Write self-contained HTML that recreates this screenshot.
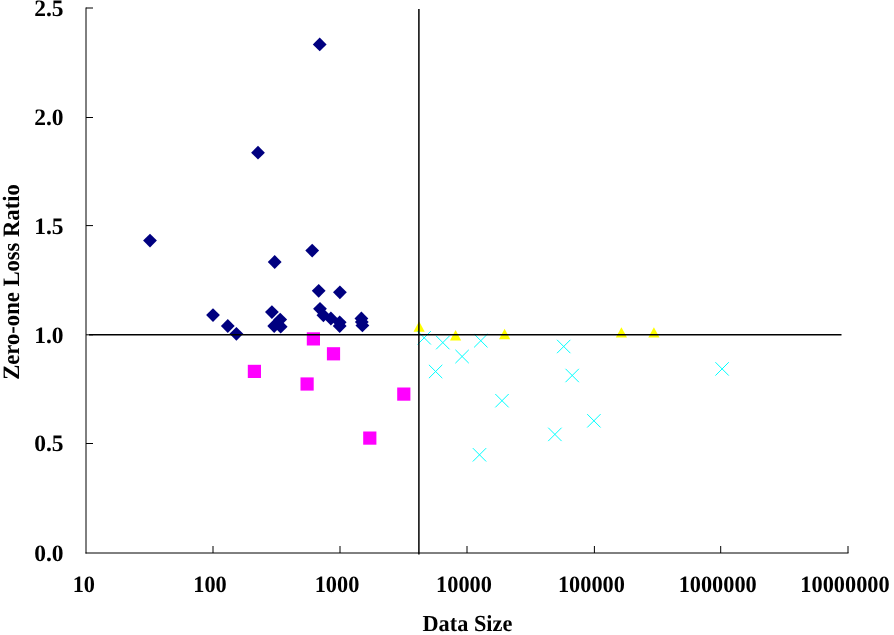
<!DOCTYPE html>
<html lang="en"><head><meta charset="utf-8"><title>Zero-one Loss Ratio vs Data Size</title>
<style>html,body{margin:0;padding:0;background:#fff}svg{display:block}text{font-family:"Liberation Serif","DejaVu Serif",serif;font-weight:bold;font-size:22.3px;fill:#000}.t{font-size:23.5px;text-rendering:geometricPrecision}</style></head><body>
<svg width="894" height="635" viewBox="0 0 894 635">
<rect width="894" height="635" fill="#fff"/>
<g fill="#000080">
<path d="M319.7 37.5L326.6 44.4L319.7 51.3L312.8 44.4Z"/>
<path d="M258.0 145.8L264.9 152.7L258.0 159.6L251.1 152.7Z"/>
<path d="M150.0 233.7L156.9 240.6L150.0 247.5L143.1 240.6Z"/>
<path d="M274.7 255.1L281.6 262.0L274.7 268.9L267.8 262.0Z"/>
<path d="M312.2 243.7L319.1 250.6L312.2 257.5L305.3 250.6Z"/>
<path d="M318.7 283.9L325.6 290.8L318.7 297.7L311.8 290.8Z"/>
<path d="M339.9 285.4L346.8 292.3L339.9 299.2L333.0 292.3Z"/>
<path d="M213.0 308.2L219.9 315.1L213.0 322.0L206.1 315.1Z"/>
<path d="M227.8 319.1L234.7 326.0L227.8 332.9L220.9 326.0Z"/>
<path d="M236.4 326.9L243.3 333.8L236.4 340.7L229.5 333.8Z"/>
<path d="M271.9 305.2L278.8 312.1L271.9 319.0L265.0 312.1Z"/>
<path d="M280.2 312.7L287.1 319.6L280.2 326.5L273.3 319.6Z"/>
<path d="M274.2 319.1L281.1 326.0L274.2 332.9L267.3 326.0Z"/>
<path d="M280.7 319.8L287.6 326.7L280.7 333.6L273.8 326.7Z"/>
<path d="M320.0 301.9L326.9 308.8L320.0 315.7L313.1 308.8Z"/>
<path d="M323.4 308.4L330.3 315.3L323.4 322.2L316.5 315.3Z"/>
<path d="M330.9 311.6L337.8 318.5L330.9 325.4L324.0 318.5Z"/>
<path d="M339.7 315.4L346.6 322.3L339.7 329.2L332.8 322.3Z"/>
<path d="M339.7 319.1L346.6 326.0L339.7 332.9L332.8 326.0Z"/>
<path d="M361.4 311.6L368.3 318.5L361.4 325.4L354.5 318.5Z"/>
<path d="M361.8 315.1L368.7 322.0L361.8 328.9L354.9 322.0Z"/>
<path d="M362.4 318.5L369.3 325.4L362.4 332.3L355.5 325.4Z"/>
</g><g fill="#ff00ff">
<rect x="306.8" y="332.3" width="13.2" height="13.2"/>
<rect x="326.9" y="347.2" width="13.2" height="13.2"/>
<rect x="247.8" y="364.8" width="13.2" height="13.2"/>
<rect x="300.5" y="377.4" width="13.2" height="13.2"/>
<rect x="397.2" y="387.5" width="13.2" height="13.2"/>
<rect x="363.2" y="431.5" width="13.2" height="13.2"/>
</g><g fill="#ffff00">
<path d="M419.1 321.3L424.7 331.7L413.5 331.7Z"/>
<path d="M455.6 330.1L461.2 340.5L450.0 340.5Z"/>
<path d="M504.6 328.8L510.2 339.2L499.0 339.2Z"/>
<path d="M621.4 327.2L627.0 337.6L615.8 337.6Z"/>
<path d="M653.9 327.2L659.5 337.6L648.3 337.6Z"/>
</g><g stroke="#00ffff" stroke-width="1" fill="none">
<path d="M417.5 331.1L430.9 344.5M417.5 344.5L430.9 331.1"/>
<path d="M436.1 335.9L449.5 349.3M436.1 349.3L449.5 335.9"/>
<path d="M474.1 334.0L487.5 347.4M474.1 347.4L487.5 334.0"/>
<path d="M455.4 349.8L468.8 363.2M455.4 363.2L468.8 349.8"/>
<path d="M428.9 364.8L442.3 378.2M428.9 378.2L442.3 364.8"/>
<path d="M557.0 339.8L570.4 353.2M557.0 353.2L570.4 339.8"/>
<path d="M565.5 368.8L578.9 382.2M565.5 382.2L578.9 368.8"/>
<path d="M495.3 394.0L508.7 407.4M495.3 407.4L508.7 394.0"/>
<path d="M587.2 414.1L600.6 427.5M587.2 427.5L600.6 414.1"/>
<path d="M548.2 427.7L561.6 441.1M548.2 441.1L561.6 427.7"/>
<path d="M472.8 448.1L486.2 461.5M472.8 461.5L486.2 448.1"/>
<path d="M715.4 362.2L728.8 375.6M715.4 375.6L728.8 362.2"/>
</g>
<g stroke="#000" stroke-width="1" fill="none">
<path d="M86.0 7.5V553.5"/>
<path d="M85.5 553.0H848.5"/>
<path d="M213.0 553.0V546.0"/>
<path d="M340.0 553.0V546.0"/>
<path d="M467.0 553.0V546.0"/>
<path d="M594.4 553.0V546.0"/>
<path d="M720.7 553.0V546.0"/>
<path d="M848.0 553.0V546.0"/>
<path d="M86.0 443.5H93"/>
<path d="M86.0 334.8H93"/>
<path d="M86.0 225.6H93"/>
<path d="M86.0 117.5H93"/>
<path d="M86.0 8.0H93"/>
</g>
<path d="M418.9 9V554.5" stroke="#000" stroke-width="1.5"/>
<path d="M89 334.8H841.5" stroke="#000" stroke-width="1.4"/>
<text transform="translate(83.8 592.4) scale(0.95 1)" text-anchor="middle" class="t">10</text>
<text transform="translate(210.0 592.4) scale(0.95 1)" text-anchor="middle" class="t">100</text>
<text transform="translate(337.0 592.4) scale(0.95 1)" text-anchor="middle" class="t">1000</text>
<text transform="translate(464.0 592.4) scale(0.95 1)" text-anchor="middle" class="t">10000</text>
<text transform="translate(591.4 592.4) scale(0.95 1)" text-anchor="middle" class="t">100000</text>
<text transform="translate(717.7 592.4) scale(0.95 1)" text-anchor="middle" class="t">1000000</text>
<text transform="translate(845.0 592.4) scale(0.95 1)" text-anchor="middle" class="t">10000000</text>
<text transform="translate(63.6 560.9) " text-anchor="end" class="t">0.0</text>
<text transform="translate(63.6 451.4) " text-anchor="end" class="t">0.5</text>
<text transform="translate(63.6 342.7) " text-anchor="end" class="t">1.0</text>
<text transform="translate(63.6 233.5) " text-anchor="end" class="t">1.5</text>
<text transform="translate(63.6 125.4) " text-anchor="end" class="t">2.0</text>
<text transform="translate(63.6 15.9) " text-anchor="end" class="t">2.5</text>
<text transform="translate(467.4 631.2) scale(0.97 1)" text-anchor="middle" style="font-size:23px;text-rendering:geometricPrecision">Data Size</text>
<text transform="translate(18.9 282) rotate(-90) scale(0.962 1)" text-anchor="middle" class="t">Zero-one Loss Ratio</text>
</svg></body></html>
